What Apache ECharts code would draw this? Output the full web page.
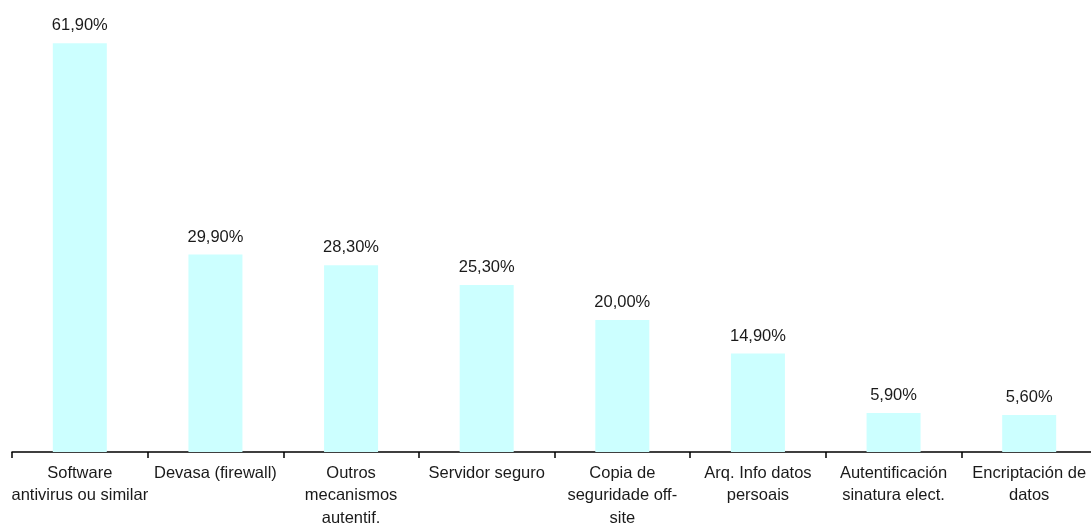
<!DOCTYPE html>
<html>
<head>
<meta charset="utf-8">
<script src="https://cdn.jsdelivr.net/npm/echarts@6/dist/echarts.min.js"></script>
<style>html,body{margin:0;padding:0;background:#fff}#c{width:1091px;height:527px}</style>
</head>
<body>
<div id="c"></div>
<script>
const categories = [
  "Software\nantivirus ou similar",
  "Devasa (firewall)",
  "Outros\nmecanismos\nautentif.",
  "Servidor seguro",
  "Copia de\nseguridade off-\nsite",
  "Arq. Info datos\npersoais",
  "Autentificación\nsinatura elect.",
  "Encriptación de\ndatos"
];
const values = [61.9, 29.9, 28.3, 25.3, 20.0, 14.9, 5.9, 5.6];

const chart = echarts.init(document.getElementById('c'));
chart.setOption({
  animation: false,
  grid: { left: 12, right: -6, top: 3, bottom: 75, outerBoundsMode: 'none', containLabel: false },
  xAxis: {
    type: 'category',
    data: categories,
    axisLine: { lineStyle: { color: '#000', width: 1.5 } },
    axisTick: { show: true, length: 6, lineStyle: { color: '#000', width: 1.5 } },
    axisLabel: { interval: 0, color: '#1a1a1a', fontFamily: 'Liberation Sans, Arial', fontSize: 16.5, lineHeight: 22.5, margin: 10 }
  },
  yAxis: { type: 'value', min: 0, max: 68, show: false, splitLine: { show: false } },
  series: [{
    type: 'bar',
    data: values,
    barWidth: 54,
    itemStyle: { color: '#CCFFFF' },
    label: {
      show: true, position: 'top', distance: 9,
      color: '#1a1a1a', fontFamily: 'Liberation Sans, Arial', fontSize: 16.5,
      formatter: p => p.value.toFixed(2).replace('.', ',') + '%'
    }
  }]
});
</script>
</body>
</html>
